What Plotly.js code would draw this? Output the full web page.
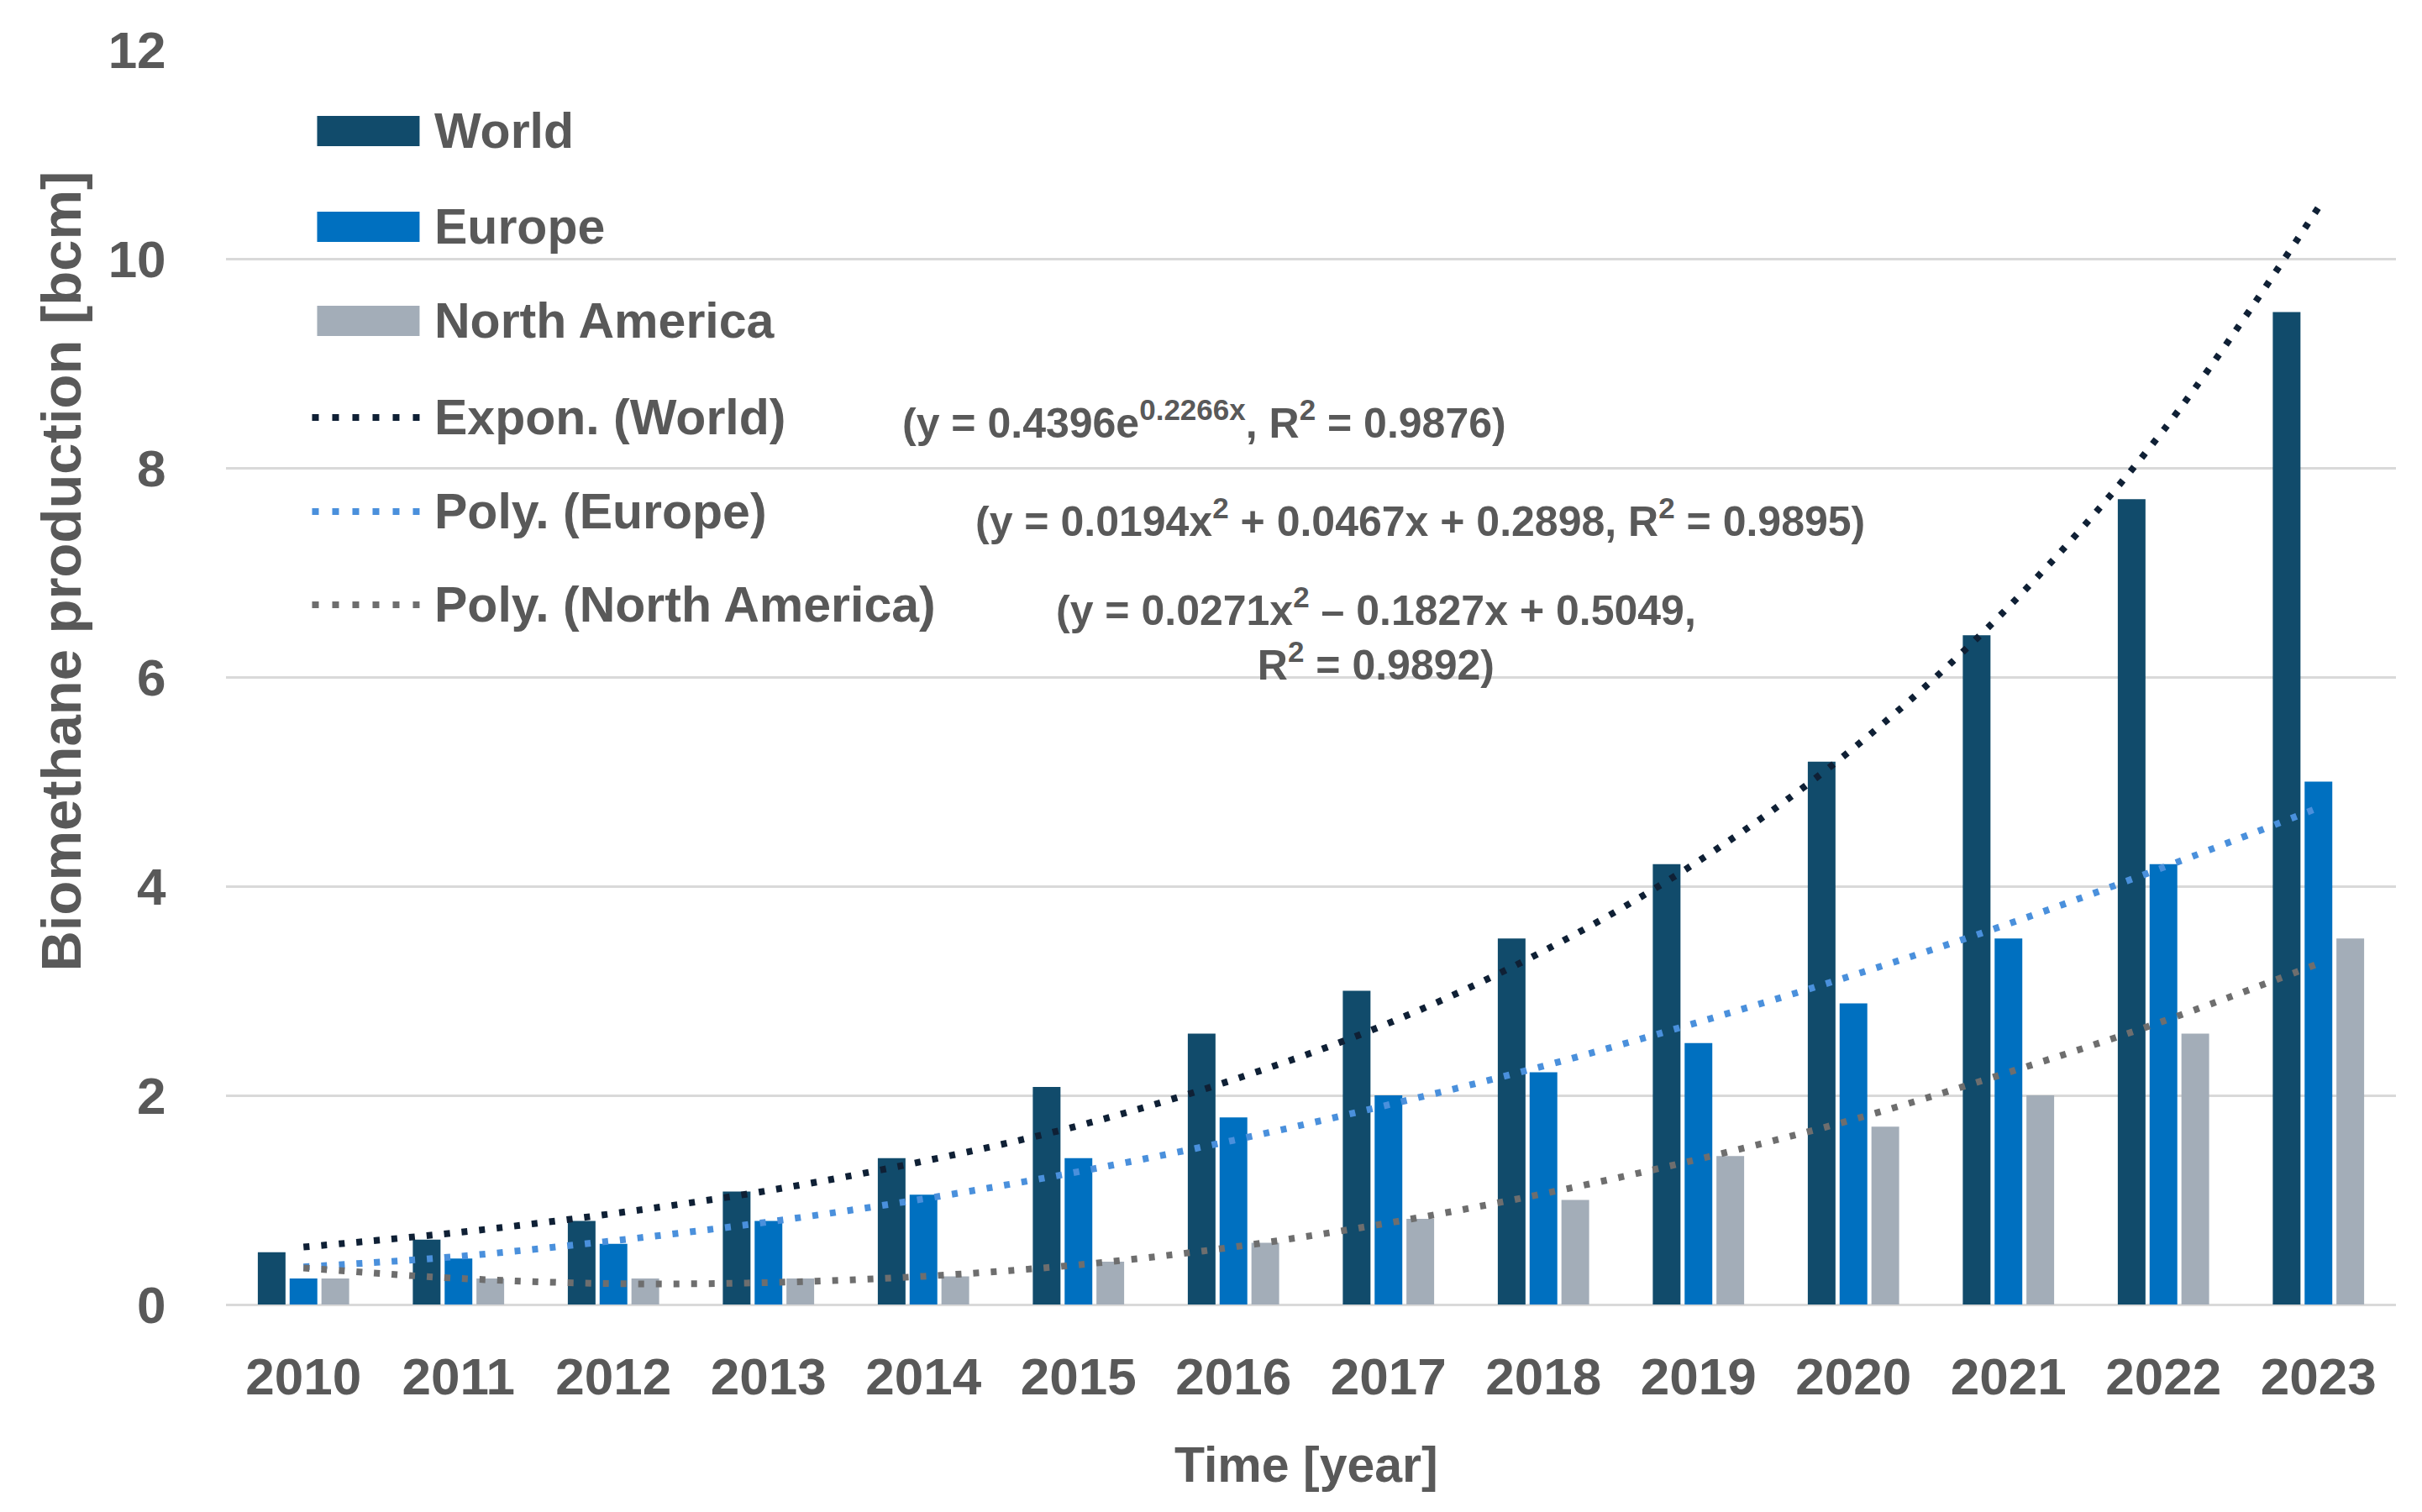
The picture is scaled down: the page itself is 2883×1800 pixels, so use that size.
<!DOCTYPE html>
<html>
<head>
<meta charset="utf-8">
<script src="https://cdn.plot.ly/plotly-3.0.1.min.js"></script>
<style>html,body{margin:0;padding:0;background:#fff;}#chart{width:2883px;height:1800px;}</style>
</head>
<body>
<div id="chart"></div>
<script>
// ---- data ----
const years = ['2010','2011','2012','2013','2014','2015','2016','2017','2018','2019','2020','2021','2022','2023'];
const world = [0.5, 0.62, 0.8, 1.08, 1.4, 2.08, 2.59, 3.0, 3.5, 4.21, 5.19, 6.4, 7.7, 9.49];
const europe = [0.25, 0.44, 0.58, 0.8, 1.05, 1.4, 1.79, 2.0, 2.22, 2.5, 2.88, 3.5, 4.21, 5.0];
const northAmerica = [0.25, 0.25, 0.25, 0.25, 0.27, 0.41, 0.59, 0.82, 1.0, 1.42, 1.7, 2.0, 2.59, 3.5];
const trendWorld = [0.55, 0.69, 0.87, 1.09, 1.37, 1.71, 2.15, 2.69, 3.38, 4.24, 5.32, 6.67, 8.36, 10.49];
const trendEurope = [0.36, 0.46, 0.61, 0.79, 1.01, 1.27, 1.57, 1.91, 2.28, 2.70, 3.15, 3.64, 4.18, 4.75];
const trendNA = [0.35, 0.25, 0.20, 0.21, 0.27, 0.38, 0.55, 0.78, 1.06, 1.39, 1.77, 2.22, 2.71, 3.26];
const seriesNames = ['World', 'Europe', 'North America', 'Expon. (World)', 'Poly. (Europe)', 'Poly. (North America)'];
const equations = [
  '(y = 0.4396e<sup>0.2266x</sup>, R<sup>2</sup> = 0.9876)',
  '(y = 0.0194x<sup>2</sup> + 0.0467x + 0.2898, R<sup>2</sup> = 0.9895)',
  '(y = 0.0271x<sup>2</sup> \u2013 0.1827x + 0.5049,<br>R<sup>2</sup> = 0.9892)'
];
const yTicks = [0, 2, 4, 6, 8, 10, 12];
const yTitle = 'Biomethane production [bcm]';
const xTitle = 'Time [year]';

// ---- styling ----
const W = 2883, H = 1800;
const M = {l: 268.5, r: 31, t: 59, b: 247};
const FONT = 'Liberation Sans, Arial, sans-serif';
const TXT = '#595959';
const barColors = ['#114b6b', '#0070c0', '#a3adb8'];
const trendColors = ['#0f2035', '#4a90dc', '#6e6e6e'];
const dotDash = '7px,14px';

function px(x) { return (x - M.l) / (W - M.l - M.r); }
function py(y) { return (H - M.b - y) / (H - M.t - M.b); }

const barData = [world, europe, northAmerica];
const trendData = [trendWorld, trendEurope, trendNA];
const traces = [];
barData.forEach((v, i) => traces.push({
  type: 'bar', x: years, y: v, name: seriesNames[i],
  marker: {color: barColors[i], line: {width: 0}}, hoverinfo: 'skip'
}));
trendData.forEach((v, i) => traces.push({
  type: 'scatter', mode: 'lines', x: years, y: v, name: seriesNames[3 + i],
  line: {color: trendColors[i], width: 8, dash: dotDash, shape: 'spline', smoothing: 1}, hoverinfo: 'skip'
}));

// custom legend (swatches + labels)
const shapes = [];
const annotations = [];
const rowY = [156, 270, 382, 497, 609, 720];
rowY.forEach((yy, i) => {
  if (i < 3) {
    shapes.push({type: 'rect', xref: 'paper', yref: 'paper',
      x0: px(377), x1: px(499), y0: py(yy - 18), y1: py(yy + 18),
      fillcolor: barColors[i], line: {width: 0}, layer: 'above'});
  } else {
    shapes.push({type: 'line', xref: 'paper', yref: 'paper',
      x0: px(371), x1: px(499), y0: py(yy), y1: py(yy),
      line: {color: trendColors[i - 3], width: 8, dash: '8px,16px'}, layer: 'above'});
  }
  annotations.push({xref: 'paper', yref: 'paper', x: px(515), y: py(yy),
    xanchor: 'left', yanchor: 'middle', showarrow: false, text: seriesNames[i],
    font: {family: FONT, size: 59, color: TXT, weight: 'bold'}});
});

// trend equations
const eqPos = [[1433, 500], [1690, 617], [1638, 755]];
equations.forEach((t, i) => annotations.push({
  xref: 'paper', yref: 'paper', x: px(eqPos[i][0]), y: py(eqPos[i][1]),
  xanchor: 'center', yanchor: 'middle', align: 'center', showarrow: false, text: t,
  font: {family: FONT, size: 50, color: TXT, weight: 'bold'}
}));

// axis titles
annotations.push({xref: 'paper', yref: 'paper', x: px(72), y: py(680), textangle: -90,
  xanchor: 'center', yanchor: 'middle', showarrow: false, text: yTitle,
  font: {family: FONT, size: 67, color: TXT, weight: 'bold'}});
annotations.push({xref: 'paper', yref: 'paper', x: px(1555), y: py(1744),
  xanchor: 'center', yanchor: 'middle', showarrow: false, text: xTitle,
  font: {family: FONT, size: 59, color: TXT, weight: 'bold'}});

const layout = {
  width: W, height: H, margin: M,
  paper_bgcolor: '#ffffff', plot_bgcolor: '#ffffff',
  showlegend: false,
  barmode: 'group', bargap: 0.384, bargroupgap: 0.13,
  xaxis: {type: 'category', categoryarray: years, showgrid: false, zeroline: false,
    showline: false, ticks: 'outside', ticklen: 32, tickcolor: 'rgba(0,0,0,0)',
    tickfont: {family: FONT, size: 62, color: TXT, weight: 'bold'}, fixedrange: true},
  yaxis: {range: [0, 12], tickvals: yTicks, ticktext: yTicks.map(String),
    showgrid: true, gridcolor: '#d9d9d9', gridwidth: 3,
    zeroline: true, zerolinecolor: '#d9d9d9', zerolinewidth: 3, showline: false,
    ticks: 'outside', ticklen: 58, tickcolor: 'rgba(0,0,0,0)',
    tickfont: {family: FONT, size: 62, color: TXT, weight: 'bold'}, fixedrange: true},
  shapes: shapes, annotations: annotations
};
Plotly.newPlot('chart', traces, layout, {staticPlot: true, displayModeBar: false});
</script>
</body>
</html>
